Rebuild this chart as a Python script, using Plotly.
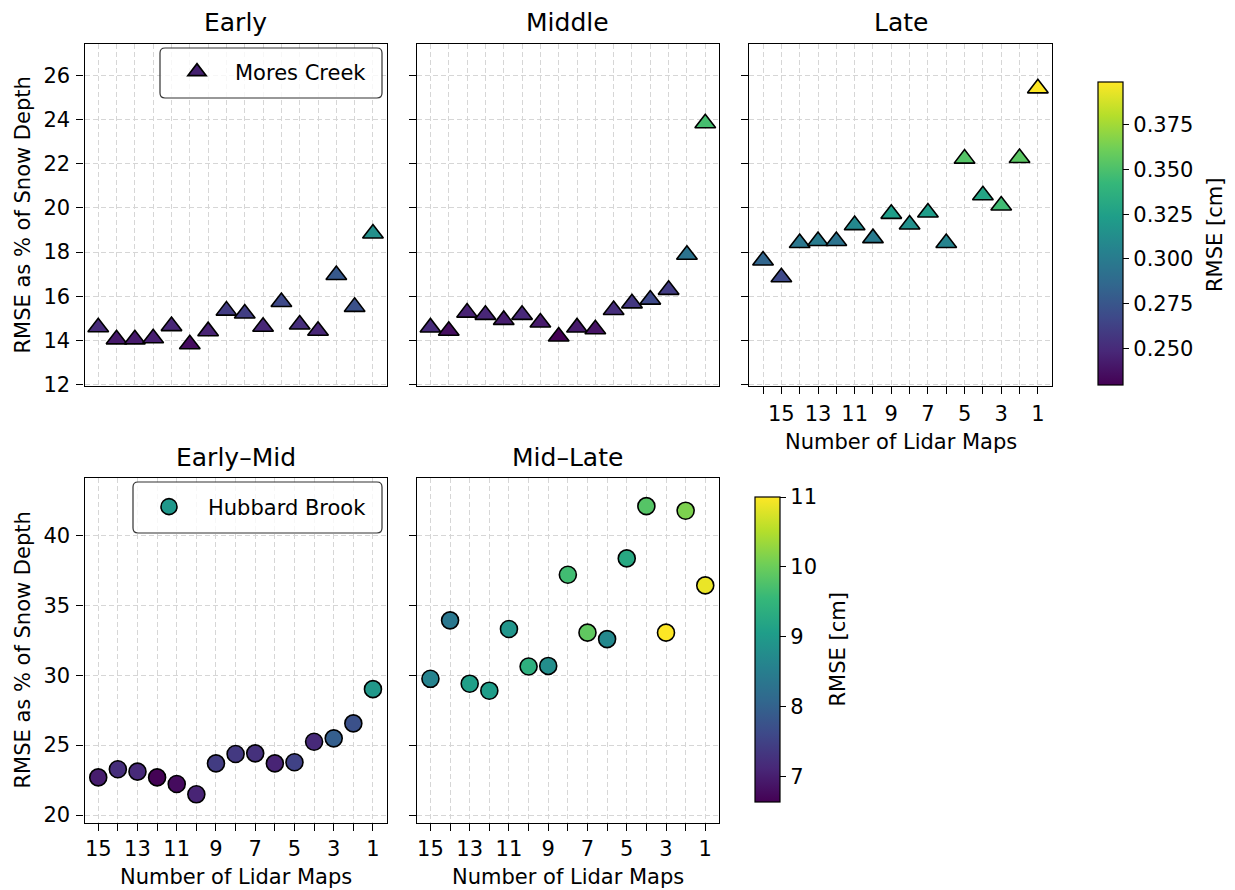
import plotly.graph_objects as go

# ---------------- data ----------------
maps_top = list(range(16, 0, -1))
maps_bottom = list(range(15, 0, -1))

early_pct = [14.6, 14.05, 14.05, 14.1, 14.65, 13.83, 14.42, 15.35, 15.22, 14.62, 15.74, 14.72, 14.44, 16.96, 15.52, 18.84]
early_rmse = [0.250, 0.241, 0.242, 0.244, 0.248, 0.235, 0.246, 0.260, 0.261, 0.248, 0.267, 0.252, 0.248, 0.277, 0.272, 0.314]

middle_pct = [14.59, 14.44, 15.26, 15.16, 14.93, 15.16, 14.81, 14.18, 14.59, 14.51, 15.38, 15.68, 15.85, 16.29, 17.88, 23.83]
middle_rmse = [0.250, 0.236, 0.246, 0.248, 0.243, 0.249, 0.242, 0.2295, 0.242, 0.238, 0.252, 0.257, 0.267, 0.260, 0.294, 0.348]

late_pct = [17.62, 16.86, 18.41, 18.5, 18.5, 19.22, 18.63, 19.73, 19.25, 19.79, 18.41, 22.23, 20.57, 20.11, 22.26, 25.41]
late_rmse = [0.285, 0.267, 0.297, 0.300, 0.294, 0.309, 0.299, 0.324, 0.314, 0.323, 0.306, 0.353, 0.328, 0.346, 0.355, 0.399]

earlymid_pct = [22.69, 23.27, 23.1, 22.69, 22.22, 21.48, 23.69, 24.36, 24.41, 23.69, 23.77, 25.24, 25.48, 26.55, 29.0]
earlymid_rmse = [6.99, 7.21, 7.16, 6.66, 6.77, 7.08, 7.42, 7.38, 7.25, 7.08, 7.51, 7.16, 7.95, 7.73, 8.95]

midlate_pct = [29.74, 33.92, 29.39, 28.89, 33.30, 30.62, 30.66, 37.18, 33.04, 32.58, 38.35, 42.09, 33.04, 41.76, 36.42]
midlate_rmse = [8.60, 8.38, 9.08, 9.04, 8.91, 9.39, 8.78, 9.65, 9.91, 8.69, 9.26, 9.82, 11.0, 10.13, 10.87]

top_yticks = [12, 14, 16, 18, 20, 22, 24, 26]
bottom_yticks = [20, 25, 30, 35, 40]
cb_top_ticks = [0.25, 0.275, 0.30, 0.325, 0.35, 0.375]
cb_bottom_ticks = [7, 8, 9, 10, 11]

panel_titles = ["Early", "Middle", "Late", "Early\u2013Mid", "Mid\u2013Late"]
ylabel = "RMSE as % of Snow Depth"
xlabel = "Number of Lidar Maps"
cb_label = "RMSE [cm]"
legend_names = ["Mores Creek", "Hubbard Brook"]

# ---------------- layout helpers ----------------
W, H = 1235, 890          # reference pixel space used for positions
FIG_H = 901               # rendered canvas height (captured area is scaled to 890)
FONT = "DejaVu Sans"
FS = 21


def xd(a, b):
    return [a / W, b / W]


def yd(top, bottom):
    return [1 - bottom / H, 1 - top / H]


def odd_labels(vals):
    return [str(v) if v % 2 == 1 else "" for v in vals]


def rounded_rect(x0, y0, x1, y1, r):
    X = lambda v: v / W
    Y = lambda v: 1 - v / H
    rx, ry = r / W, r / H
    return (f"M {X(x0)+rx},{Y(y0)} L {X(x1)-rx},{Y(y0)} Q {X(x1)},{Y(y0)} {X(x1)},{Y(y0)-ry} "
            f"L {X(x1)},{Y(y1)+ry} Q {X(x1)},{Y(y1)} {X(x1)-rx},{Y(y1)} "
            f"L {X(x0)+rx},{Y(y1)} Q {X(x0)},{Y(y1)} {X(x0)},{Y(y1)+ry} "
            f"L {X(x0)},{Y(y0)-ry} Q {X(x0)},{Y(y0)} {X(x0)+rx},{Y(y0)} Z")


common = dict(showline=True, linecolor="black", linewidth=1.3, mirror=True,
              showgrid=True, gridcolor="#d6d6d6", gridwidth=1, griddash="5px,3px",
              zeroline=False, tickcolor="black", tickwidth=1.3, ticklen=7,
              tickfont=dict(size=FS, color="black", family=FONT))

fig = go.Figure()

panels = [
    ("x", "y", maps_top, early_pct, early_rmse, "triangle-up", "coloraxis"),
    ("x2", "y2", maps_top, middle_pct, middle_rmse, "triangle-up", "coloraxis"),
    ("x3", "y3", maps_top, late_pct, late_rmse, "triangle-up", "coloraxis"),
    ("x4", "y4", maps_bottom, earlymid_pct, earlymid_rmse, "circle", "coloraxis2"),
    ("x5", "y5", maps_bottom, midlate_pct, midlate_rmse, "circle", "coloraxis2"),
]
for xa, ya, xs, ys, cs, sym, cax in panels:
    fig.add_trace(go.Scatter(
        x=xs, y=ys, mode="markers", xaxis=xa, yaxis=ya, showlegend=False,
        marker=dict(symbol=sym, size=18 if sym != "circle" else 17, color=cs, coloraxis=cax,
                    line=dict(color="black", width=1.6))))

# legend entries
fig.add_trace(go.Scatter(x=[None], y=[None], mode="markers", name=legend_names[0],
                         xaxis="x", yaxis="y", legend="legend",
                         marker=dict(symbol="triangle-up", size=16, color="#44206f",
                                     line=dict(color="black", width=1.6))))
fig.add_trace(go.Scatter(x=[None], y=[None], mode="markers", name=legend_names[1],
                         xaxis="x4", yaxis="y4", legend="legend2",
                         marker=dict(symbol="circle", size=16, color="#1f988b",
                                     line=dict(color="black", width=1.6))))

top_x = [(84.5, 386.7), (416.7, 719.0), (749.3, 1051.6)]
bot_x = [(84.5, 386.7), (416.7, 719.0)]
top_y = (43.5, 386.2)
bot_y = (477.7, 822.7)

layout = dict(width=W, height=FIG_H, autosize=False,
              margin=dict(l=0, r=0, t=0, b=0),
              paper_bgcolor="white", plot_bgcolor="white",
              font=dict(family=FONT, size=FS, color="black"))

for i, (a, b) in enumerate(top_x):
    n = "" if i == 0 else str(i + 1)
    xa = dict(common, domain=xd(a, b), range=[16.75, 0.25], anchor="y" + n,
              tickvals=maps_top, ticktext=odd_labels(maps_top), ticklabelstandoff=1)
    if i < 2:
        xa.update(ticks="", showticklabels=False)
    else:
        xa.update(ticks="outside")
    ya = dict(common, domain=yd(*top_y), range=[11.93, 27.44], anchor="x" + n,
              tickvals=top_yticks, ticks="outside", showticklabels=(i == 0),
              ticklabelstandoff=2)
    layout["xaxis" + n] = xa
    layout["yaxis" + n] = ya

for j, (a, b) in enumerate(bot_x):
    n = str(j + 4)
    layout["xaxis" + n] = dict(common, domain=xd(a, b), range=[15.7, 0.3], anchor="y" + n,
                               tickvals=maps_bottom, ticktext=odd_labels(maps_bottom),
                               ticks="outside", ticklabelstandoff=0)
    layout["yaxis" + n] = dict(common, domain=yd(*bot_y), range=[19.45, 44.12], anchor="x" + n,
                               tickvals=bottom_yticks, ticks="outside", showticklabels=(j == 0),
                               ticklabelstandoff=2)

cb_common = dict(xanchor="left", xpad=0, yanchor="top", ypad=0, lenmode="fraction",
                 thickness=25, outlinecolor="black", outlinewidth=1.2,
                 ticks="outside", ticklen=6, tickwidth=1.2, tickcolor="black",
                 tickfont=dict(size=FS, color="black", family=FONT))
layout["coloraxis"] = dict(colorscale="Viridis", cmin=0.2295, cmax=0.399,
                           colorbar=dict(cb_common, x=1098 / W, y=1 - 82 / H, len=303 / H,
                                         tickvals=cb_top_ticks, tickformat=".3f"))
layout["coloraxis2"] = dict(colorscale="Viridis", cmin=6.64, cmax=11.0,
                            colorbar=dict(cb_common, x=755 / W, y=1 - 497 / H, len=305 / H,
                                          tickvals=cb_bottom_ticks))

leg_common = dict(xanchor="left", yanchor="middle", bgcolor="rgba(0,0,0,0)",
                  borderwidth=0, font=dict(size=FS, family=FONT, color="black"))
layout["legend"] = dict(leg_common, x=159 / W, y=1 - 72 / H, itemwidth=66)
layout["legend2"] = dict(leg_common, x=130 / W, y=1 - 507 / H, itemwidth=68)

layout["shapes"] = [
    dict(type="path", xref="paper", yref="paper", path=rounded_rect(160, 48, 382, 98, 5),
         line=dict(color="#333333", width=1.2), fillcolor="rgba(255,255,255,0.8)", layer="above"),
    dict(type="path", xref="paper", yref="paper", path=rounded_rect(133, 482, 382, 533, 5),
         line=dict(color="#333333", width=1.2), fillcolor="rgba(255,255,255,0.8)", layer="above"),
]

ann = []
title_pos = [(235.6, 22), (567.9, 22), (900.5, 22), (235.6, 457), (567.9, 457)]
for t, (px, py) in zip(panel_titles, title_pos):
    ann.append(dict(text=t, x=px / W, y=1 - py / H, xref="paper", yref="paper",
                    xanchor="center", yanchor="middle", showarrow=False,
                    font=dict(size=25, family=FONT, color="black")))
for py in (215, 650):
    ann.append(dict(text=ylabel, x=22.5 / W, y=1 - py / H, xref="paper", yref="paper",
                    xanchor="center", yanchor="middle", textangle=-90, showarrow=False,
                    font=dict(size=FS, family=FONT, color="black")))
for px, py in ((900.5, 442.5), (235.6, 876.5), (567.9, 876.5)):
    ann.append(dict(text=xlabel, x=px / W, y=1 - py / H, xref="paper", yref="paper",
                    xanchor="center", yanchor="middle", showarrow=False,
                    font=dict(size=FS, family=FONT, color="black")))
for px, py in ((1215, 235), (837.5, 650)):
    ann.append(dict(text=cb_label, x=px / W, y=1 - py / H, xref="paper", yref="paper",
                    xanchor="center", yanchor="middle", textangle=-90, showarrow=False,
                    font=dict(size=FS, family=FONT, color="black")))
layout["annotations"] = ann

fig.update_layout(**layout)

page_fix = ("var s=document.documentElement.style, b=document.body.style;"
            "s.margin='0';s.padding='0';s.overflow='hidden';"
            "b.margin='0';b.padding='0';b.overflow='hidden';")
fig.write_html("out.html", config={"displayModeBar": False}, post_script=page_fix)
